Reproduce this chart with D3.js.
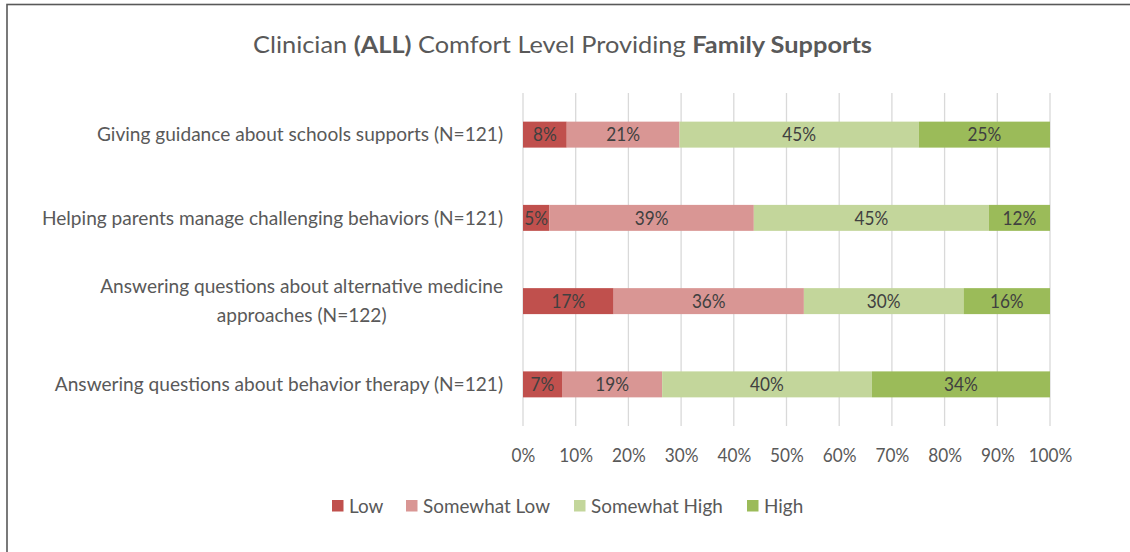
<!DOCTYPE html>
<html><head><meta charset="utf-8">
<script src="https://cdn.jsdelivr.net/npm/d3@7"></script>
<style>
html,body{margin:0;padding:0;background:#fff;}
svg text{font-family:Lato,"Open Sans",sans-serif;}
</style></head>
<body><svg id="chart" width="1130" height="552"></svg>
<script>
const categories = [
  "Giving guidance about schools supports (N=121)",
  "Helping parents manage challenging behaviors (N=121)",
  "Answering questions about alternative medicine|approaches (N=122)",
  "Answering questions about behavior therapy (N=121)"
];
const seriesNames = ["Low", "Somewhat Low", "Somewhat High", "High"];
const low          = [0.083, 0.050, 0.172, 0.074];
const somewhatLow  = [0.214, 0.388, 0.361, 0.190];
const somewhatHigh = [0.454, 0.446, 0.303, 0.398];
const high         = [0.249, 0.116, 0.164, 0.338];
const tickValues = [0,0.1,0.2,0.3,0.4,0.5,0.6,0.7,0.8,0.9,1.0];
const colors = ["#C0504D", "#D99694", "#C3D69B", "#9BBB59"];

const svg = d3.select("#chart");
// frame
svg.append("rect").attr("x",7).attr("y",4.5).attr("width",1300).attr("height",700)
  .attr("fill","#fff").attr("stroke","#595959").attr("stroke-width",1.6);

// condense text horizontally (Calibri-like proportions)
function condense(sel, k){
  sel.each(function(){
    const L = this.getComputedTextLength();
    d3.select(this).attr("textLength", L * k).attr("lengthAdjust","spacingAndGlyphs");
  });
}

// title
const title = svg.append("text").attr("x",562.5).attr("y",53).attr("text-anchor","middle")
  .attr("font-size",23.5).attr("fill","#595959");
title.append("tspan").text("Clinician ");
title.append("tspan").attr("font-weight","bold").text("(ALL)");
title.append("tspan").text(" Comfort Level Providing ");
title.append("tspan").attr("font-weight","bold").text("Family Supports");
const tL = title.node().getComputedTextLength();
title.attr("textLength",619).attr("lengthAdjust","spacingAndGlyphs");

const x = d3.scaleLinear().domain([0,1]).range([523,1050]);
const y = d3.scaleBand().domain(categories).range([93,426]).paddingInner(0.688).paddingOuter(0.344);

// gridlines
svg.append("g").selectAll("line").data(tickValues).join("line")
  .attr("x1",d=>x(d)).attr("x2",d=>x(d)).attr("y1",93).attr("y2",426)
  .attr("stroke","#D9D9D9").attr("stroke-width",1.3);

// x axis labels
const xAxis = d3.axisBottom(x).tickValues(tickValues).tickFormat(d3.format(".0%")).tickSize(0).tickPadding(0);
const gx = svg.append("g").attr("transform","translate(0,449)").call(xAxis);
gx.select(".domain").remove();
gx.selectAll("text").attr("font-size",18.5).attr("fill","#595959").attr("font-family","Lato,'Open Sans',sans-serif")
  .attr("dy","0.71em").attr("y",0);
condense(gx.selectAll("text"), 0.93);

// stacked data
const rows = categories.map((c,i)=>({cat:c, Low:low[i], "Somewhat Low":somewhatLow[i], "Somewhat High":somewhatHigh[i], High:high[i]}));
const stack = d3.stack().keys(seriesNames)(rows);

const layers = svg.append("g").selectAll("g").data(stack).join("g").attr("fill",(d,i)=>colors[i]);
layers.selectAll("rect").data(d=>d.map(p=>({p, key:d.key}))).join("rect")
  .attr("x",d=>x(d.p[0])).attr("width",d=>x(d.p[1])-x(d.p[0]))
  .attr("y",d=>y(d.p.data.cat)).attr("height",y.bandwidth());

const labels = svg.append("g");
stack.forEach(layer=>{
  layer.forEach(p=>{
    labels.append("text")
      .attr("x",(x(p[0])+x(p[1]))/2).attr("y",y(p.data.cat)+y.bandwidth()/2)
      .attr("dy","0.36em").attr("text-anchor","middle")
      .attr("font-size",18.5).attr("fill","#404040")
      .text(d3.format(".0%")(p[1]-p[0]));
  });
});
condense(labels.selectAll("text"), 0.93);

// category labels
const catG = svg.append("g");
const catFs = 19;
const probe = catG.append("text").attr("font-size",catFs).text(categories[1].replace("|"," "));
const kCat = 461 / probe.node().getComputedTextLength();
probe.remove();
categories.forEach(c=>{
  const parts = c.split("|");
  const cy = y(c) + y.bandwidth()/2;
  if(parts.length===1){
    const t = catG.append("text").attr("x",503).attr("y",cy).attr("dy","0.36em").attr("text-anchor","end")
      .attr("font-size",catFs).attr("fill","#595959").text(parts[0]);
    condense(t, kCat);
  } else {
    const t1 = catG.append("text").attr("x",503).attr("y",cy-14.5).attr("dy","0.36em").attr("text-anchor","end")
      .attr("font-size",catFs).attr("fill","#595959").text(parts[0]);
    condense(t1, kCat);
    const w1 = +t1.attr("textLength");
    const t2 = catG.append("text").attr("x",503 - w1/2).attr("y",cy+14.5).attr("dy","0.36em").attr("text-anchor","middle")
      .attr("font-size",catFs).attr("fill","#595959").text(parts[1]);
    condense(t2, kCat);
  }
});

// legend
const legendX = [332, 406, 574, 747];
const lg = svg.append("g").selectAll("g").data(seriesNames).join("g")
  .attr("transform",(d,i)=>`translate(${legendX[i]},506)`);
lg.append("rect").attr("x",0).attr("y",-6).attr("width",11.5).attr("height",11.5).attr("fill",(d,i)=>colors[i]);
const lt = lg.append("text").attr("x",17).attr("y",0).attr("dy","0.36em").attr("font-size",19).attr("fill","#595959").text(d=>d);
const kLeg = 127 / lt.filter(d=>d==="Somewhat Low").node().getComputedTextLength();
condense(lt, kLeg);
</script>
</body></html>
